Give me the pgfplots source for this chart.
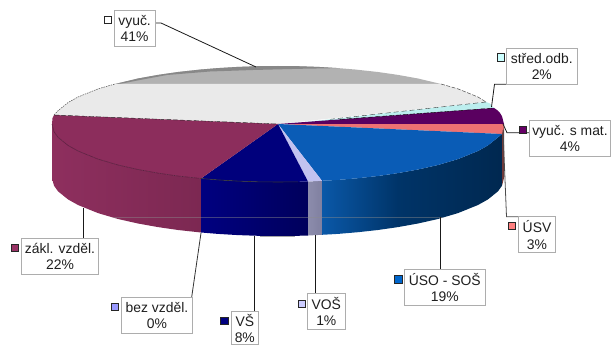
\documentclass[border=0pt]{standalone}
\usepackage{pgfplots}
\pgfplotsset{compat=1.18}
\usepackage{fontspec}
\setmainfont{Liberation Sans}
\definecolor{cMag}{HTML}{8C2D5C}
\definecolor{cNavy}{HTML}{00007C}
\definecolor{cLav}{HTML}{C2C2F0}
\definecolor{cBlue}{HTML}{0A5CB6}
\definecolor{cPink}{HTML}{EE7272}
\definecolor{cPur}{HTML}{5A0060}
\definecolor{cCyan}{HTML}{BCEEEE}
\definecolor{cWhite}{HTML}{EAEAEA}
\definecolor{cGray}{HTML}{B2B2B2}
\definecolor{cDark}{HTML}{888888}
\definecolor{HTMLnavyA}{HTML}{000080}
\definecolor{HTMLnavyB}{HTML}{00005C}
\definecolor{HTMLlavA}{HTML}{8C8CAC}
\definecolor{HTMLlavB}{HTML}{8080A0}
\definecolor{HTMLblueA}{HTML}{0A58A8}
\definecolor{HTMLblueB}{HTML}{003468}
\definecolor{HTMLblueC}{HTML}{002850}
\definecolor{HTMLpinkS}{HTML}{6E3A3A}
\definecolor{HTMLmagE}{HTML}{5E1E40}
\definecolor{HTMLmagW}{HTML}{8E2F5E}
\definecolor{HTMLmagX}{HTML}{7C2852}
\definecolor{HTMLcyanS}{HTML}{CCFFFF}
\definecolor{HTMLpurS}{HTML}{660066}
\definecolor{HTMLpinkL}{HTML}{FF8080}
\definecolor{HTMLblueL}{HTML}{0066CC}
\definecolor{HTMLlavL}{HTML}{CCCCFF}
\definecolor{HTMLnavyL}{HTML}{000080}
\definecolor{HTMLbezL}{HTML}{9999FF}
\definecolor{HTMLmagL}{HTML}{993366}
\newcommand{\lab}[9]{%
 \addplot[fill=white,draw=black!32,line width=0.8pt] coordinates {(#1,#2)(#3,#2)(#3,#4)(#1,#4)} -- cycle;
 \addplot[fill=#9,draw=black!85,line width=1pt] coordinates {(#5,#6)(#7,#6)(#7,#8)(#5,#8)} -- cycle;
}
\newcommand{\txt}[4]{\node[align=center,inner sep=0pt,font=\fontsize{13.9}{16.5}\selectfont,text=black!88] at (#1,#2) {#3\\#4};}
\begin{document}
\begin{tikzpicture}
\useasboundingbox (0,0) rectangle (611pt,345pt);
\begin{axis}[hide axis,scale only axis,width=611pt,height=345pt,
  xmin=0,xmax=611,ymin=0,ymax=345,y dir=reverse,clip=false]
% side walls
\addplot[left color=HTMLmagW,right color=HTMLmagX,draw=none] coordinates {(52,124)(54,131.7)(58,137.3)(68,145.4)(78,151)(98,159.1)(118,165)(138,169.5)(158,173.1)(178,176)(201,178.5)(201,232.5)(178,230)(158,227.1)(138,223.5)(118,219)(98,213.1)(78,205)(68,199.4)(58,191.3)(54,185.7)(52,178)} -- cycle;
\addplot[left color=HTMLnavyA,right color=HTMLnavyB,draw=none] coordinates {(201,178.5)(218,179.9)(238,181.1)(258,181.8)(278,182)(298,181.8)(308,181.5)(308,235.5)(298,235.8)(278,236)(258,235.8)(238,235.1)(218,233.9)(201,232.5)} -- cycle;
\addplot[left color=HTMLlavA,right color=HTMLlavB,draw=none] coordinates {(308,181.5)(322,180.8)(322,234.8)(308,235.5)} -- cycle;
\addplot[left color=HTMLblueA,right color=HTMLblueB,draw=none] coordinates {(322,180.8)(338,179.9)(358,178.2)(378,176)(398,173.1)(398,227.1)(378,230)(358,232.2)(338,233.9)(322,234.8)} -- cycle;
\addplot[left color=HTMLblueB,right color=HTMLblueC,draw=none] coordinates {(398,173.1)(418,169.5)(438,165)(458,159.1)(478,151)(488,145.4)(498,137.3)(502,134)(502,185.7)(498,191.3)(488,199.4)(478,205)(458,213.1)(438,219)(418,223.5)(398,227.1)} -- cycle;
\addplot[fill=HTMLpinkS,draw=none] coordinates {(502,133)(504,124)(504,178)(502,185.7)} -- cycle;
% artefact lines on the wall
\addplot[black!45,opacity=.45,line width=0.5pt] coordinates {(113,217)(443,217)};
\addplot[black!35,line width=1pt] coordinates {(260,236.4)(295,236.4)};
% top face
\addplot[fill=cGray,draw=none] coordinates {(115,84)(138,78.5)(158,74.9)(178,72)(201,69.5)(218,68.1)(238,66.9)(258,66.2)(278,66)(298,66.2)(318,66.9)(338,68.1)(355,69.5)(378,72)(398,74.9)(418,78.5)(441,84)} -- cycle;
\addplot[fill=cDark,draw=none] coordinates {(115,84)(138,78.5)(158,74.9)(178,72)(201,69.5)(218,68.1)(238,66.9)(258,66.2)(278,66)(298,66.2)(318,66.9)(338,68.1)(300,68.8)(253,70)(210,71.5)(167,75)(140,80)(120,84)} -- cycle;
\addplot[fill=cWhite,draw=none] coordinates {(278,124)(54,115)(58,110.7)(68,102.6)(78,97)(98,88.9)(115,84)(441,84)(458,88.9)(478,97)(486,102)} -- cycle;
\addplot[fill=cCyan,draw=none] coordinates {(278,125)(486,102)(490,103.5)(494,108)} -- cycle;
\addplot[fill=cPur,draw=none] coordinates {(278,124)(494,108)(497,110)(500,113)(502,116.3)(504,124)} -- cycle;
\addplot[fill=cPink,draw=none] coordinates {(278,124)(504,124)(503.5,129)(502,134)} -- cycle;
\addplot[fill=cBlue,draw=none] coordinates {(278,124)(502,134)(498,137.3)(488,145.4)(478,151)(458,159.1)(438,165)(418,169.5)(398,173.1)(378,176)(358,178.2)(338,179.9)(322,180.8)} -- cycle;
\addplot[fill=cLav,draw=none] coordinates {(278,124)(322,180.8)(308,181.5)} -- cycle;
\addplot[fill=cNavy,draw=none] coordinates {(278,124)(308,181.5)(298,181.8)(278,182)(258,181.8)(238,181.1)(218,179.9)(201,178.5)} -- cycle;
\addplot[fill=cMag,draw=none] coordinates {(278,124)(201,178.5)(178,176)(158,173.1)(138,169.5)(118,165)(98,159.1)(78,151)(68,145.4)(58,137.3)(54,131.7)(52,124)(52.5,118)(54,115)} -- cycle;
% edges
\addplot[HTMLmagE,line width=0.6pt] coordinates {(52,124)(54,131.7)(58,137.3)(68,145.4)(78,151)(98,159.1)(118,165)(138,169.5)(158,173.1)(178,176)(201,178.5)};
\addplot[black!80,line width=0.6pt] coordinates {(201,178.5)(218,179.9)(238,181.1)(258,181.8)(278,182)(298,181.8)};
\addplot[black!85,line width=0.4pt,dash pattern=on 5pt off 2pt] coordinates {(54,115)(278,124)};
\addplot[black!80,line width=0.4pt,dash pattern=on 5pt off 3pt] coordinates {(330,119.3)(486,102)};
\addplot[black,line width=0.4pt,dash pattern=on 5pt off 2pt] coordinates {(340,119.4)(494,108)};
\addplot[black!70,line width=0.5pt,dash pattern=on 1.5pt off 1pt] coordinates {(54,115)(58,110.7)(68,102.6)(78,97)(98,88.9)(115,84)};
\addplot[black!70,line width=0.5pt,dash pattern=on 4pt off 1.5pt] coordinates {(441,84)(458,88.9)(478,97)(486,102)};
% leader lines
\addplot[black!90,line width=0.8pt] coordinates {(155,23)(161,23)(256,67)};
\addplot[black!90,line width=0.8pt] coordinates {(491.5,107)(494.5,84.3)(506,84.3)};
\addplot[black!90,line width=0.8pt] coordinates {(503,124)(507,132.7)(529,132.7)};
\addplot[black!70,line width=0.8pt] coordinates {(503,130)(506.5,216.7)(518.7,216.7)};
\addplot[black!90,line width=0.8pt] coordinates {(440.4,217)(440.4,269.3)};
\addplot[black!90,line width=0.8pt] coordinates {(315.3,235)(315.3,293.3)};
\addplot[black!90,line width=0.8pt] coordinates {(254.4,235.7)(254.4,311)};
\addplot[black!80,line width=0.8pt] coordinates {(201,233)(191.7,297)};
\addplot[black!90,line width=0.8pt] coordinates {(83.3,208)(83.3,238.3)};
% labels
\lab{114.3}{10}{155}{46.7}{104.7}{16.7}{111.7}{24}{white}
\lab{506.3}{48.3}{577.3}{84.3}{497.3}{54}{504.3}{61.3}{HTMLcyanS}
\lab{529.3}{120.3}{610.5}{156}{519.3}{126}{526.7}{133.3}{HTMLpurS}
\lab{518.7}{216.7}{555.3}{252.7}{508.3}{222.3}{515.7}{229.7}{HTMLpinkL}
\lab{404.3}{269.3}{485.3}{305.3}{394.7}{275.7}{402}{283}{HTMLblueL}
\lab{307.3}{293.3}{345.3}{329.3}{298}{300.3}{305.3}{307}{HTMLlavL}
\lab{231}{311}{258.7}{344.5}{220.7}{317}{228}{324.3}{HTMLnavyL}
\lab{121.3}{297}{192.7}{333.3}{111}{303}{118.7}{310.3}{HTMLbezL}
\lab{21.3}{238.3}{98.7}{274.3}{11.3}{244}{18.7}{251.7}{HTMLmagL}
\txt{134.6}{28.5}{vyuč.}{41\%}
\txt{541.8}{66.5}{střed.odb.}{2\%}
\txt{570}{138.5}{vyuč. s mat.}{4\%}
\txt{537}{234.8}{ÚSV}{3\%}
\txt{444.8}{287.5}{ÚSO - SOŠ}{19\%}
\txt{326.3}{311.5}{VOŠ}{1\%}
\txt{244.8}{328.5}{VŠ}{8\%}
\txt{157}{315.3}{bez vzděl.}{0\%}
\txt{60}{256.5}{zákl. vzděl.}{22\%}
\end{axis}
\end{tikzpicture}
\end{document}
